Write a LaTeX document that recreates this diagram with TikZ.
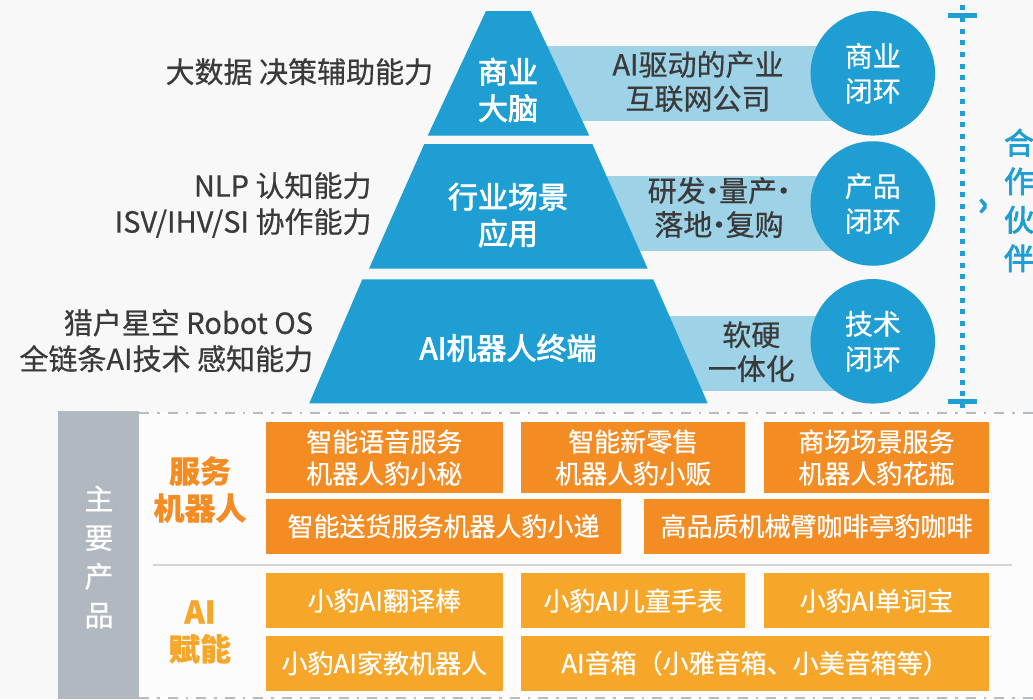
\documentclass[tikz,border=0pt]{standalone}
\usepackage{fontspec}
\usepackage{tikz}
\usetikzlibrary{positioning,calc}
\newfontfamily\cjk[FakeBold=0.6]{Noto Sans CJK SC}
\newfontfamily\cjkmid[FakeBold=2.5]{Noto Sans CJK SC}
\newcommand{\middot}{\makebox[0.46em][c]{·}}
\definecolor{pagebg}{HTML}{F8F8F8}
\definecolor{panelbg}{HTML}{FCFCFC}
\definecolor{pyrblue}{HTML}{1E9ED3}
\definecolor{bandblue}{HTML}{9ED2E7}
\definecolor{inkdark}{HTML}{3A3A3A}
\definecolor{deeporange}{HTML}{F48C24}
\definecolor{lightorange}{HTML}{F6A628}
\definecolor{bargray}{HTML}{B1B8C0}
\definecolor{rulegray}{HTML}{B6BBC1}
\definecolor{sepgray}{HTML}{D3D6D9}
\tikzset{
  sidetext/.style={anchor=east,align=right,inner sep=0pt,text=inkdark,
                   font=\cjk\fontsize{29}{36}\selectfont},
  pyrtext/.style={align=center,inner sep=0pt,text=white,
                  font=\cjkmid\fontsize{30}{36.5}\selectfont},
  pyrlayer/.style={fill=pyrblue,draw=none},
  band/.style={fill=bandblue,draw=none},
  bandtext/.style={align=center,inner sep=0pt,text=inkdark,
                   font=\cjk\fontsize{29}{34}\selectfont},
  loopnode/.style={circle,fill=pyrblue,minimum size=124.5pt,inner sep=0pt,
                   align=center,text=white,font=\cjk\fontsize{28}{35}\selectfont},
  capline/.style={draw=pyrblue,line width=5pt},
  dotline/.style={draw=pyrblue,line width=4.5pt,dash pattern=on 5pt off 6.7pt},
  partnertext/.style={align=center,inner sep=0pt,text=pyrblue,
                      font=\cjkmid\fontsize{30}{38.5}\selectfont},
  ruledash/.style={draw=rulegray,line width=2pt,
                   dash pattern=on 10pt off 8pt on 2.5pt off 8pt},
  grouplabel/.style={align=center,inner sep=0pt,
                     font=\cjk\bfseries\fontsize{31}{37}\selectfont},
  prodbox/.style={fill=deeporange,draw=none,inner sep=0pt,align=center,
                  text=white,font=\cjk\fontsize{26}{32}\selectfont},
  prodboxlt/.style={prodbox,fill=lightorange}
}

\begin{document}
\begin{tikzpicture}[x=1pt,y=-1pt]
    \fill[pagebg] (0,0) rectangle (1033,699);
    \useasboundingbox (0,0) rectangle (1033,699);

    \fill[band] (508,46) rectangle (873,120.7);
    \fill[band] (508,176) rectangle (873,250.7);
    \fill[band] (508,316) rectangle (873,390.7);

    \fill[pyrlayer] (486,11) -- (530.7,11) -- (589.3,135.7) -- (427.7,135.7) -- cycle;
    \fill[pyrlayer] (424.3,144) -- (592.3,144) -- (647.7,268.7) -- (369,268.7) -- cycle;
    \fill[pyrlayer] (362.3,279.3) -- (653.3,279.3) -- (707.7,403.3) -- (309.3,403.3) -- cycle;

    \node[pyrtext] (brain) at (508,90) {商业\\大脑};
    \node[pyrtext] (scene) at (508,215) {行业场景\\应用};
    \node[pyrtext] (terminal) at (508,348) {AI机器人终端};

    \node[sidetext] (bigdata) at (433.3,71.7) {大数据 决策辅助能力};
    \node[sidetext] (nlp) at (371.7,205) {NLP 认知能力\\ISV/IHV/SI 协作能力};
    \node[sidetext] (robotos) at (313.3,340.8) {猎户星空 Robot OS\\全链条AI技术 感知能力};

    \node[bandtext] (aicompany) at (698,81.5) {AI驱动的产业\\互联网公司};
    \node[bandtext] (rdcycle) at (719,207.5) {研发\middot 量产\middot\\落地\middot 复购};
    \node[bandtext] (hwsw) at (751.3,351.7) {软硬\\一体化};

    \node[loopnode] (bizloop) at (872.8,73.3) {商业\\闭环};
    \node[loopnode] (prodloop) at (872.8,203.5) {产品\\闭环};
    \node[loopnode] (techloop) at (872.8,341.3) {技术\\闭环};

    \coordinate (brtop) at (962.5,15.2);
    \coordinate (brbot) at (962.5,401.7);
    \draw[dotline] ([yshift=10]brtop) -- ([yshift=-6]brbot);
    \draw[capline] ([xshift=-15]brtop) -- ([xshift=14]brtop);
    \draw[capline] ([xshift=-15]brbot) -- ([xshift=14]brbot);
    \node[text=pyrblue,inner sep=0pt,font=\cjk\bfseries\fontsize{32}{32}\selectfont]
      (chevron) at (983,207) {›};
    \node[partnertext] (partner) at (1019,200.5) {合\\作\\伙\\伴};

    \fill[panelbg] (139.3,412) rectangle (1033,699);
    \fill[bargray] (58.3,411) rectangle (139.3,699);
    \node[align=center,inner sep=0pt,text=white,
          font=\cjk\fontsize{29}{38.7}\selectfont] (mainprod) at (99,557)
      {主\\要\\产\\品};
    \draw[ruledash] (139.3,412.7) -- (1033,412.7);
    \draw[ruledash] (139.3,697.5) -- (1033,697.5);
    \draw[sepgray,line width=1.8pt] (153.3,564.7) -- (1011.7,564.7);

    \node[grouplabel,text=deeporange] (svclabel) at (200,489.5) {服务\\机器人};
    \node[grouplabel,text=lightorange] (ailabel) at (200,632) {AI\\赋能};

    \node[prodbox,minimum width=236.7pt,minimum height=70.4pt] (voice) at (384.3,457.5)
      {智能语音服务\\机器人豹小秘};
    \node[prodbox,minimum width=224.3pt,minimum height=70.4pt] (retail) at (633.2,457.5)
      {智能新零售\\机器人豹小贩};
    \node[prodbox,minimum width=225.3pt,minimum height=70.4pt] (mall) at (876.4,457.5)
      {商场场景服务\\机器人豹花瓶};
    \node[prodbox,minimum width=355pt,minimum height=55pt] (delivery) at (443.5,526.2)
      {智能送货服务机器人豹小递};
    \node[prodbox,minimum width=345pt,minimum height=55pt] (coffee) at (816.5,526.2)
      {高品质机械臂咖啡亭豹咖啡};

    \node[prodboxlt,minimum width=236.7pt,minimum height=55.3pt] (translator) at (384.3,600.7)
      {小豹AI翻译棒};
    \node[prodboxlt,minimum width=224.3pt,minimum height=55.3pt] (watch) at (633.2,600.7)
      {小豹AI儿童手表};
    \node[prodboxlt,minimum width=225.3pt,minimum height=55.3pt] (wordbox) at (876.4,600.7)
      {小豹AI单词宝};
    \node[prodboxlt,minimum width=236.7pt,minimum height=55pt] (tutor) at (384.3,663.2)
      {小豹AI家教机器人};
    \node[prodboxlt,minimum width=468pt,minimum height=55pt] (speaker) at (755,663.2)
      {AI音箱（小雅音箱、小美音箱等）};
  \end{tikzpicture}
\end{document}
